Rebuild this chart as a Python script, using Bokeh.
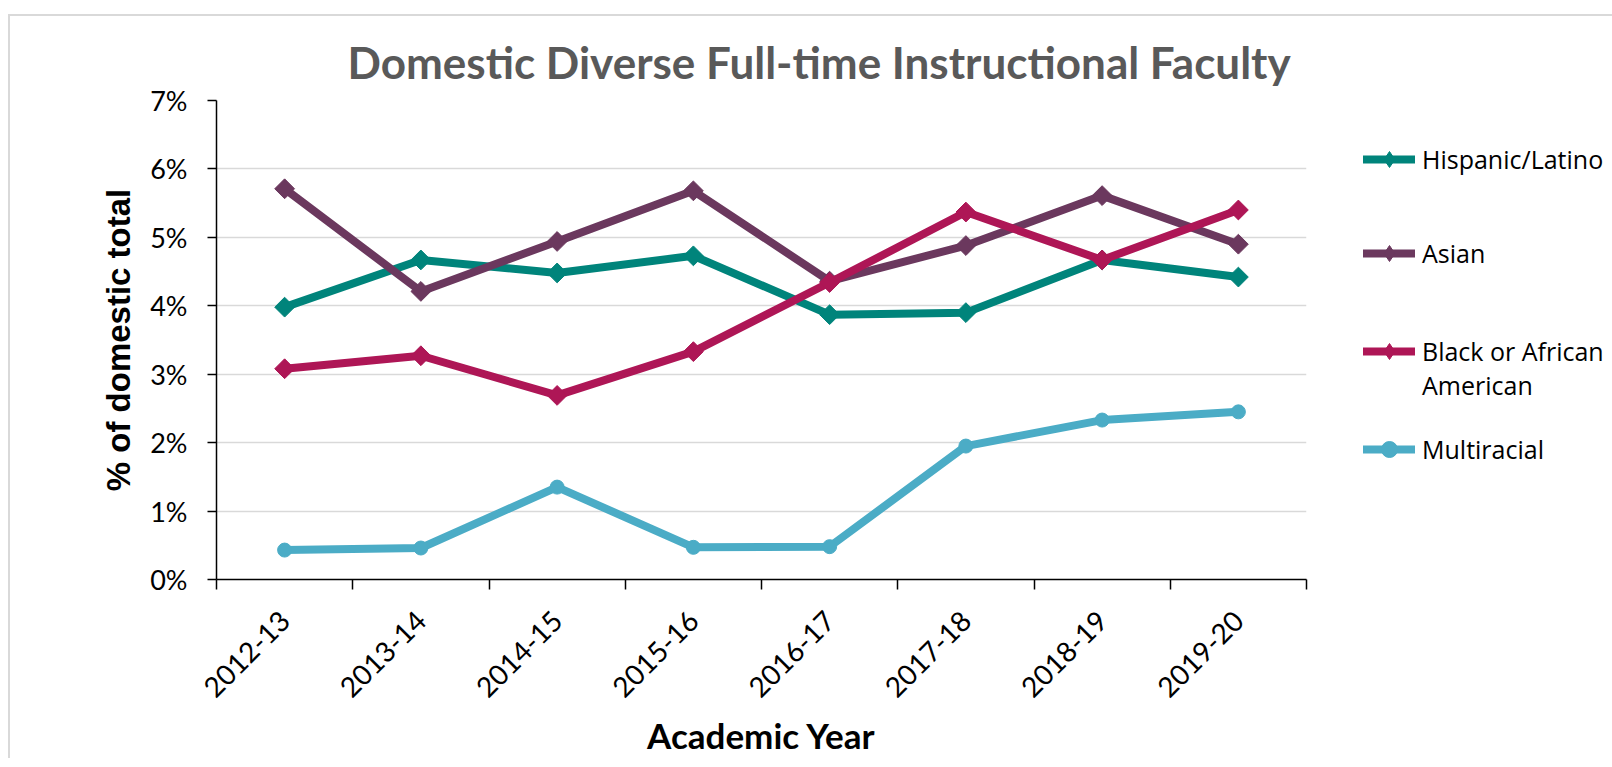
import math
from bokeh.plotting import figure
from bokeh.models import (FixedTicker, PrintfTickFormatter, Legend, LegendItem,
                          ColumnDataSource, Range1d)
from bokeh.embed import file_html
from bokeh.resources import INLINE

# ---- data ----
years = ["2012-13", "2013-14", "2014-15", "2015-16", "2016-17", "2017-18", "2018-19", "2019-20"]
hispanic = [3.98, 4.67, 4.48, 4.73, 3.87, 3.90, 4.67, 4.42]
asian = [5.71, 4.21, 4.94, 5.68, 4.36, 4.88, 5.61, 4.90]
black = [3.08, 3.27, 2.69, 3.33, 4.34, 5.37, 4.67, 5.40]
multiracial = [0.43, 0.46, 1.35, 0.47, 0.48, 1.95, 2.33, 2.45]
series_names = ["Hispanic/Latino", "Asian", "\nBlack or African\nAmerican", "Multiracial"]
y_ticks = [0, 1, 2, 3, 4, 5, 6, 7]

colors = ["#00847B", "#6B385E", "#AE1656", "#4BACC6"]
markers = ["diamond", "diamond", "diamond", "circle"]

x_idx = list(range(len(years)))
boundaries = [i - 0.5 for i in range(len(years) + 1)]

p = figure(frame_width=1090, frame_height=479,
           x_range=Range1d(-0.5, len(years) - 0.5), y_range=Range1d(0, y_ticks[-1]),
           output_backend="svg", toolbar_location=None,
           min_border_left=216, min_border_right=304, min_border_top=100, min_border_bottom=160)
p.outline_line_color = None
p.background_fill_color = "white"
p.border_fill_color = None
p.styles = {
    "background-image": "linear-gradient(#d9d9d9, #d9d9d9), linear-gradient(#d9d9d9, #d9d9d9)",
    "background-position": "8px 14px, 8px 14px",
    "background-size": "2px 100%, 100% 2px",
    "background-repeat": "no-repeat",
}

# title
p.title.text = "Domestic Diverse Full-time Instructional Faculty"
p.title.align = "left"
p.title.offset = 131
p.title.text_font = "Lato"
p.title.text_font_style = "bold"
p.title.text_font_size = "44px"
p.title.text_color = "#595959"
p.title.standoff = 26

# grid
p.xgrid.grid_line_color = None
p.ygrid.grid_line_color = "#d9d9d9"
p.ygrid.grid_line_width = 1.5
p.ygrid.ticker = FixedTicker(ticks=y_ticks)

# x axis
xax = p.xaxis[0]
xax.ticker = FixedTicker(ticks=x_idx, minor_ticks=boundaries)
xax.major_label_overrides = {i: y for i, y in zip(x_idx, years)}
xax.major_tick_line_color = None
xax.major_tick_out = 0
xax.major_tick_in = 0
xax.minor_tick_line_color = "black"
xax.minor_tick_line_width = 1.5
xax.minor_tick_out = 10
xax.minor_tick_in = 0
xax.axis_line_color = "black"
xax.axis_line_width = 1.5
xax.major_label_orientation = math.pi / 4
xax.major_label_standoff = 26
xax.major_label_text_font = "Lato"
xax.major_label_text_font_size = "28px"
xax.major_label_text_color = "black"
xax.axis_label = "Academic Year"
xax.axis_label_text_font = "Lato"
xax.axis_label_text_font_style = "bold"
xax.axis_label_text_font_size = "35px"
xax.axis_label_text_color = "black"
xax.axis_label_standoff = 4

# y axis
yax = p.yaxis[0]
yax.ticker = FixedTicker(ticks=y_ticks, minor_ticks=[])
yax.formatter = PrintfTickFormatter(format="%d%%")
yax.major_tick_out = 9
yax.major_tick_in = 0
yax.major_tick_line_width = 1.5
yax.major_tick_line_color = "black"
yax.axis_line_color = "black"
yax.axis_line_width = 1.5
yax.major_label_standoff = 20
yax.major_label_text_font = "Lato"
yax.major_label_text_font_size = "27px"
yax.major_label_text_color = "black"
yax.axis_label = "% of domestic total"
yax.axis_label_text_font = "Liberation Sans"
yax.axis_label_text_font_style = "bold"
yax.axis_label_text_font_size = "33px"
yax.axis_label_text_color = "black"
yax.axis_label_standoff = 10

# series
items = []
for name, vals, color, mk in zip(series_names, [hispanic, asian, black, multiracial], colors, markers):
    src = ColumnDataSource(dict(x=x_idx, y=vals))
    lr = p.line("x", "y", source=src, line_color=color, line_width=8, line_join="round", line_cap="round")
    if mk == "diamond":
        # narrow diamond used as legend key (hidden under the plot markers)
        key = p.scatter("x", "y", source=src, marker="diamond", size=10,
                        fill_color=color, line_color=color, line_width=1)
        p.scatter("x", "y", source=src, marker="square", angle=math.pi / 4, size=14,
                  fill_color=color, line_color=color, line_width=1)
        items.append(LegendItem(label=name, renderers=[lr, key]))
    else:
        sr = p.scatter("x", "y", source=src, marker="circle", size=14,
                       fill_color=color, line_color=color, line_width=1)
        items.append(LegendItem(label=name, renderers=[lr, sr]))

legend = Legend(items=items, location=(57, 83), orientation="vertical",
                padding=0, margin=0, border_line_color=None, background_fill_alpha=0,
                glyph_width=52, glyph_height=40, label_height=94, spacing=0, label_standoff=7,
                label_text_font="Open Sans", label_text_font_size="25px",
                label_text_line_height=1.25, label_text_color="black")
p.add_layout(legend, "right")

open("out.html", "w").write(file_html(p, INLINE))
